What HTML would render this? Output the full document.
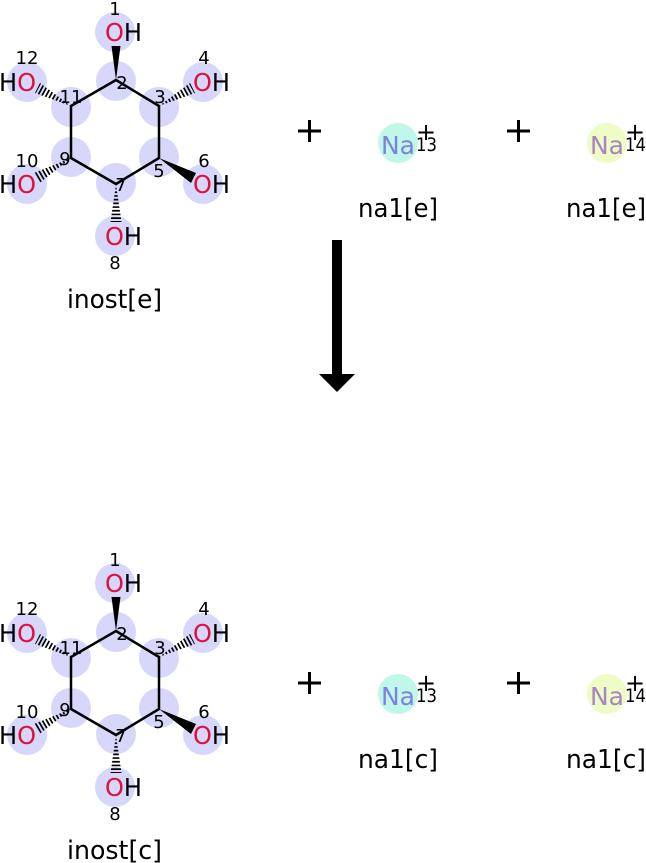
<!DOCTYPE html>
<html><head><meta charset="utf-8"><style>
html,body{margin:0;padding:0;background:#fff;}
svg{display:block;font-family:"DejaVu Sans","Liberation Sans",sans-serif;}
</style></head><body>
<svg width="646" height="863" viewBox="0 0 646 863" xmlns="http://www.w3.org/2000/svg">
<defs>
<clipPath id="h2" clipPathUnits="userSpaceOnUse"><polygon points="159,106 195,93 190,83"/></clipPath>
<clipPath id="h3" clipPathUnits="userSpaceOnUse"><polygon points="71,106 35,93 40,83"/></clipPath>
<clipPath id="h4" clipPathUnits="userSpaceOnUse"><polygon points="71,158 39.5,183 34,173"/></clipPath>
<clipPath id="h5" clipPathUnits="userSpaceOnUse"><polygon points="116,184 121.5,222 110.5,222"/></clipPath>
<g id="mol">
 <g fill="#d7d7fb">
  <circle cx="115" cy="32" r="20"/><circle cx="203" cy="82" r="20"/><circle cx="203" cy="184" r="20"/>
  <circle cx="115" cy="236" r="20"/><circle cx="27" cy="184" r="20"/><circle cx="27" cy="82" r="20"/>
  <circle cx="116" cy="81" r="20"/><circle cx="159" cy="107" r="20"/><circle cx="159" cy="157" r="20"/>
  <circle cx="116" cy="183" r="20"/><circle cx="71" cy="157" r="20"/><circle cx="71" cy="107" r="20"/>
 </g>
 <polygon points="116,80 159,106 159,158 116,184 71,158 71,106" fill="none" stroke="#000" stroke-width="2.5" stroke-linejoin="round"/>
 <polygon points="116,80 120.5,46 111.5,46" fill="#000"/>
 <polygon points="159,158 191,183 196,173" fill="#000"/>
 <g stroke="#000" stroke-width="14" stroke-dasharray="1.7 2" fill="none">
  <line x1="159" y1="106" x2="194" y2="87" clip-path="url(#h2)"/>
  <line x1="71" y1="106" x2="36" y2="87" clip-path="url(#h3)"/>
  <line x1="71" y1="158" x2="35" y2="179" clip-path="url(#h4)"/>
  <line x1="116" y1="184" x2="116" y2="223" clip-path="url(#h5)"/>
 </g>
</g>
</defs>

<use href="#mol"/>
<use href="#mol" transform="translate(0,551)"/>

<g font-size="25">
 <text x="105" y="41" textLength="37" lengthAdjust="spacingAndGlyphs"><tspan fill="#e0103a">O</tspan><tspan fill="#000">H</tspan></text>
 <text x="193" y="91" textLength="37" lengthAdjust="spacingAndGlyphs"><tspan fill="#e0103a">O</tspan><tspan fill="#000">H</tspan></text>
 <text x="193" y="193" textLength="37" lengthAdjust="spacingAndGlyphs"><tspan fill="#e0103a">O</tspan><tspan fill="#000">H</tspan></text>
 <text x="105" y="245" textLength="37" lengthAdjust="spacingAndGlyphs"><tspan fill="#e0103a">O</tspan><tspan fill="#000">H</tspan></text>
 <text x="-1" y="193" textLength="37" lengthAdjust="spacingAndGlyphs"><tspan fill="#000">H</tspan><tspan fill="#e0103a">O</tspan></text>
 <text x="-1" y="91" textLength="37" lengthAdjust="spacingAndGlyphs"><tspan fill="#000">H</tspan><tspan fill="#e0103a">O</tspan></text>
</g>
<g font-size="18" fill="#000" text-anchor="middle">
 <text x="115" y="15">1</text><text x="27" y="64">12</text><text x="204" y="64">4</text>
 <text x="27" y="167">10</text><text x="204" y="167">6</text><text x="115" y="269">8</text>
 <text x="122" y="89">2</text><text x="160" y="103">3</text><text x="71" y="103">11</text>
 <text x="65" y="165">9</text><text x="159" y="177">5</text><text x="121" y="191">7</text>
</g>

<g font-size="25">
 <text x="105" y="592" textLength="37" lengthAdjust="spacingAndGlyphs"><tspan fill="#e0103a">O</tspan><tspan fill="#000">H</tspan></text>
 <text x="193" y="642" textLength="37" lengthAdjust="spacingAndGlyphs"><tspan fill="#e0103a">O</tspan><tspan fill="#000">H</tspan></text>
 <text x="193" y="744" textLength="37" lengthAdjust="spacingAndGlyphs"><tspan fill="#e0103a">O</tspan><tspan fill="#000">H</tspan></text>
 <text x="105" y="796" textLength="37" lengthAdjust="spacingAndGlyphs"><tspan fill="#e0103a">O</tspan><tspan fill="#000">H</tspan></text>
 <text x="-1" y="744" textLength="37" lengthAdjust="spacingAndGlyphs"><tspan fill="#000">H</tspan><tspan fill="#e0103a">O</tspan></text>
 <text x="-1" y="642" textLength="37" lengthAdjust="spacingAndGlyphs"><tspan fill="#000">H</tspan><tspan fill="#e0103a">O</tspan></text>
</g>
<g font-size="18" fill="#000" text-anchor="middle">
 <text x="115" y="566">1</text><text x="27" y="615">12</text><text x="204" y="615">4</text>
 <text x="27" y="718">10</text><text x="204" y="718">6</text><text x="115" y="820">8</text>
 <text x="122" y="640">2</text><text x="160" y="654">3</text><text x="71" y="654">11</text>
 <text x="65" y="716">9</text><text x="159" y="728">5</text><text x="121" y="742">7</text>
</g>

<g font-size="26" fill="#000">
 <text x="67" y="308" textLength="95" lengthAdjust="spacingAndGlyphs">inost[e]</text>
 <text x="67" y="859" textLength="95" lengthAdjust="spacingAndGlyphs">inost[c]</text>
 <text x="358" y="217" textLength="80" lengthAdjust="spacingAndGlyphs">na1[e]</text>
 <text x="566" y="217" textLength="80" lengthAdjust="spacingAndGlyphs">na1[e]</text>
 <text x="358" y="768" textLength="80" lengthAdjust="spacingAndGlyphs">na1[c]</text>
 <text x="566" y="768" textLength="80" lengthAdjust="spacingAndGlyphs">na1[c]</text>
</g>

<g stroke="#000" stroke-width="3">
 <line x1="298" y1="131" x2="321" y2="131"/><line x1="309.5" y1="120" x2="309.5" y2="142"/>
 <line x1="507" y1="131" x2="530" y2="131"/><line x1="518.5" y1="120" x2="518.5" y2="142"/>
 <line x1="298" y1="683" x2="321" y2="683"/><line x1="309.5" y1="672" x2="309.5" y2="694"/>
 <line x1="507" y1="683" x2="530" y2="683"/><line x1="518.5" y1="672" x2="518.5" y2="694"/>
</g>

<circle cx="398" cy="143" r="20" fill="#bff7e8"/>
<circle cx="607" cy="143" r="20" fill="#eefcc6"/>
<circle cx="398" cy="694" r="20" fill="#bff7e8"/>
<circle cx="607" cy="694" r="20" fill="#eefcc6"/>
<g font-size="25">
 <text x="381" y="154" fill="#7f80e0" textLength="34" lengthAdjust="spacingAndGlyphs">Na</text>
 <text x="590" y="154" fill="#a884c4" textLength="34" lengthAdjust="spacingAndGlyphs">Na</text>
 <text x="381" y="705" fill="#7f80e0" textLength="34" lengthAdjust="spacingAndGlyphs">Na</text>
 <text x="590" y="705" fill="#a884c4" textLength="34" lengthAdjust="spacingAndGlyphs">Na</text>
</g>
<g font-size="19" fill="#000">
 <text x="416" y="151" textLength="21" lengthAdjust="spacingAndGlyphs">13</text><text x="416" y="140" font-size="24">+</text>
 <text x="625" y="151" textLength="21" lengthAdjust="spacingAndGlyphs">14</text><text x="625" y="140" font-size="24">+</text>
 <text x="416" y="702" textLength="21" lengthAdjust="spacingAndGlyphs">13</text><text x="416" y="691" font-size="24">+</text>
 <text x="625" y="702" textLength="21" lengthAdjust="spacingAndGlyphs">14</text><text x="625" y="691" font-size="24">+</text>
</g>

<rect x="332" y="240" width="10" height="136" fill="#000"/>
<polygon points="319,374 355,374 337,392" fill="#000"/>
</svg>
</body></html>
